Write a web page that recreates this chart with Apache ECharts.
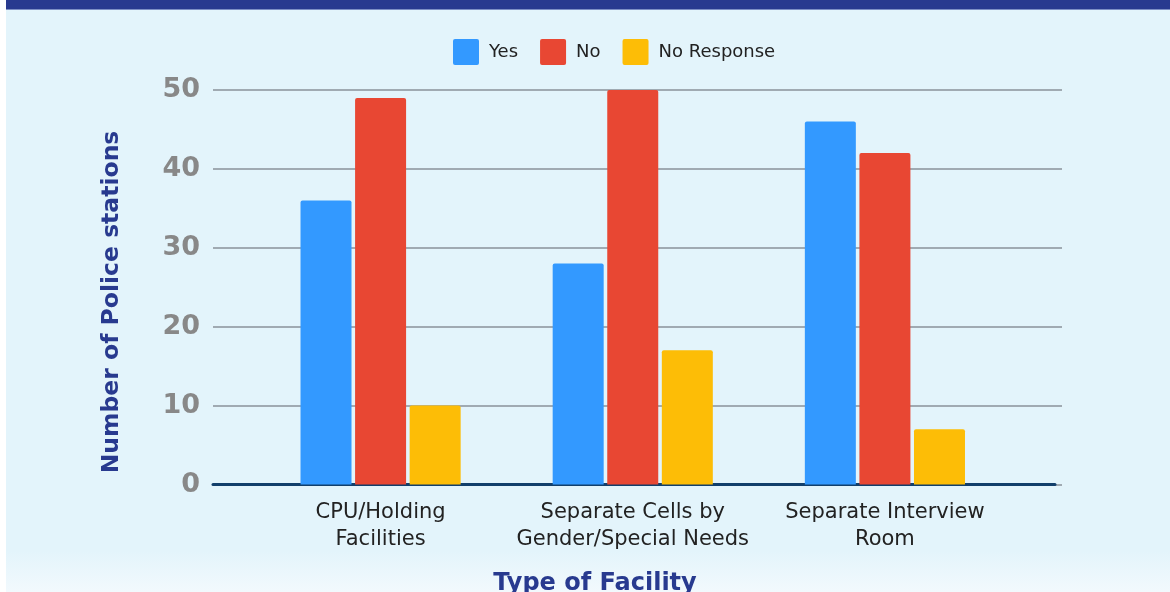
<!DOCTYPE html>
<html>
<head>
<meta charset="utf-8">
<script src="https://cdn.jsdelivr.net/npm/echarts@6/dist/echarts.min.js"></script>
<style>
html,body{margin:0;padding:0;background:#fff;}
#chart{width:1170px;height:592px;}
</style>
</head>
<body>
<div id="chart"></div>
<script>
const categories = ['CPU/Holding\nFacilities', 'Separate Cells by\nGender/Special Needs', 'Separate Interview\nRoom'];
const seriesNames = ['Yes', 'No', 'No Response'];
const yesValues = [36, 28, 46];
const noValues = [49, 50, 42];
const noResponseValues = [10, 17, 7];
const yTicks = [0, 10, 20, 30, 40, 50];

const colors = ['#3399ff', '#e84733', '#fdbd06'];
const chart = echarts.init(document.getElementById('chart'));
const gridTop = 90, gridBottom = 107.5;
const option = {
  animation: false,
  color: colors,
  graphic: [
    { type: 'rect', shape: { x: 6, y: 0, width: 1164, height: 592 }, style: {
      fill: new echarts.graphic.LinearGradient(0, 0, 0, 1, [
        { offset: 0, color: '#e3f4fb' }, { offset: 0.93, color: '#e3f4fb' }, { offset: 1, color: '#f2f9fd' }]) }, z: -10, silent: true },
    { type: 'rect', shape: { x: 6, y: 0, width: 1164, height: 9 }, style: { fill: '#283a8f' }, z: -9, silent: true },
    { type: 'rect', shape: { x: 6, y: 9, width: 1164, height: 1 }, style: { fill: '#7d8fc4' }, z: -9, silent: true },
    { type: 'text', x: 112, y: 302, rotation: Math.PI / 2, style: {
      text: 'Number of Police stations', fill: '#283a8f', font: 'bold 23.5px "DejaVu Sans"',
      textAlign: 'center', textVerticalAlign: 'middle' } },
    { type: 'text', x: 595, y: 584, style: {
      text: 'Type of Facility', fill: '#283a8f', font: 'bold 24px "DejaVu Sans"',
      textAlign: 'center', textVerticalAlign: 'middle' } }
  ],
  legend: {
    data: seriesNames, left: 453, top: 39, padding: 0, itemWidth: 26, itemHeight: 26, itemGap: 22,
    icon: 'path://M2,0 L24,0 Q26,0 26,2 L26,24 Q26,26 24,26 L2,26 Q0,26 0,24 L0,2 Q0,0 2,0 Z',
    textStyle: { fontFamily: 'DejaVu Sans', fontSize: 18, color: '#222', padding: [0, 0, 0, 5] }
  },
  grid: [
    { left: 213, right: 108, top: gridTop, bottom: gridBottom },
    { left: 213, right: 115, top: gridTop, bottom: gridBottom },
    { left: 254.5, right: 159, top: gridTop, bottom: gridBottom }
  ],
  xAxis: [
    { gridIndex: 0, type: 'category', data: [''], show: false },
    { gridIndex: 1, type: 'category', data: [''], axisLine: { show: true, lineStyle: { color: '#123f6b', width: 3 } },
      axisTick: { show: false }, axisLabel: { show: false } },
    { gridIndex: 2, type: 'category', data: categories, axisLine: { show: false }, axisTick: { show: false },
      axisLabel: { interval: 0, margin: 15, fontFamily: 'DejaVu Sans', fontSize: 21, color: '#222', lineHeight: 27 } }
  ],
  yAxis: [
    { gridIndex: 0, type: 'value', min: yTicks[0], max: yTicks[yTicks.length - 1], interval: 10,
      axisLine: { show: false }, axisTick: { show: false },
      splitLine: { lineStyle: { color: '#8a929a', width: 1.5 } },
      axisLabel: { margin: 13, fontFamily: 'DejaVu Sans', fontWeight: 'bold', fontSize: 27, color: '#888888' } },
    { gridIndex: 1, type: 'value', min: 0, max: 50, show: false },
    { gridIndex: 2, type: 'value', min: 0, max: 50, show: false }
  ],
  series: [
    { name: seriesNames[0], type: 'bar', xAxisIndex: 2, yAxisIndex: 2, data: yesValues, barWidth: 51, barGap: '7%',
      itemStyle: { borderRadius: [2, 2, 0, 0] } },
    { name: seriesNames[1], type: 'bar', xAxisIndex: 2, yAxisIndex: 2, data: noValues, barWidth: 51, barGap: '7%',
      itemStyle: { borderRadius: [2, 2, 0, 0] } },
    { name: seriesNames[2], type: 'bar', xAxisIndex: 2, yAxisIndex: 2, data: noResponseValues, barWidth: 51, barGap: '7%',
      itemStyle: { borderRadius: [2, 2, 0, 0] } }
  ]
};
chart.setOption(option);
</script>
</body>
</html>
